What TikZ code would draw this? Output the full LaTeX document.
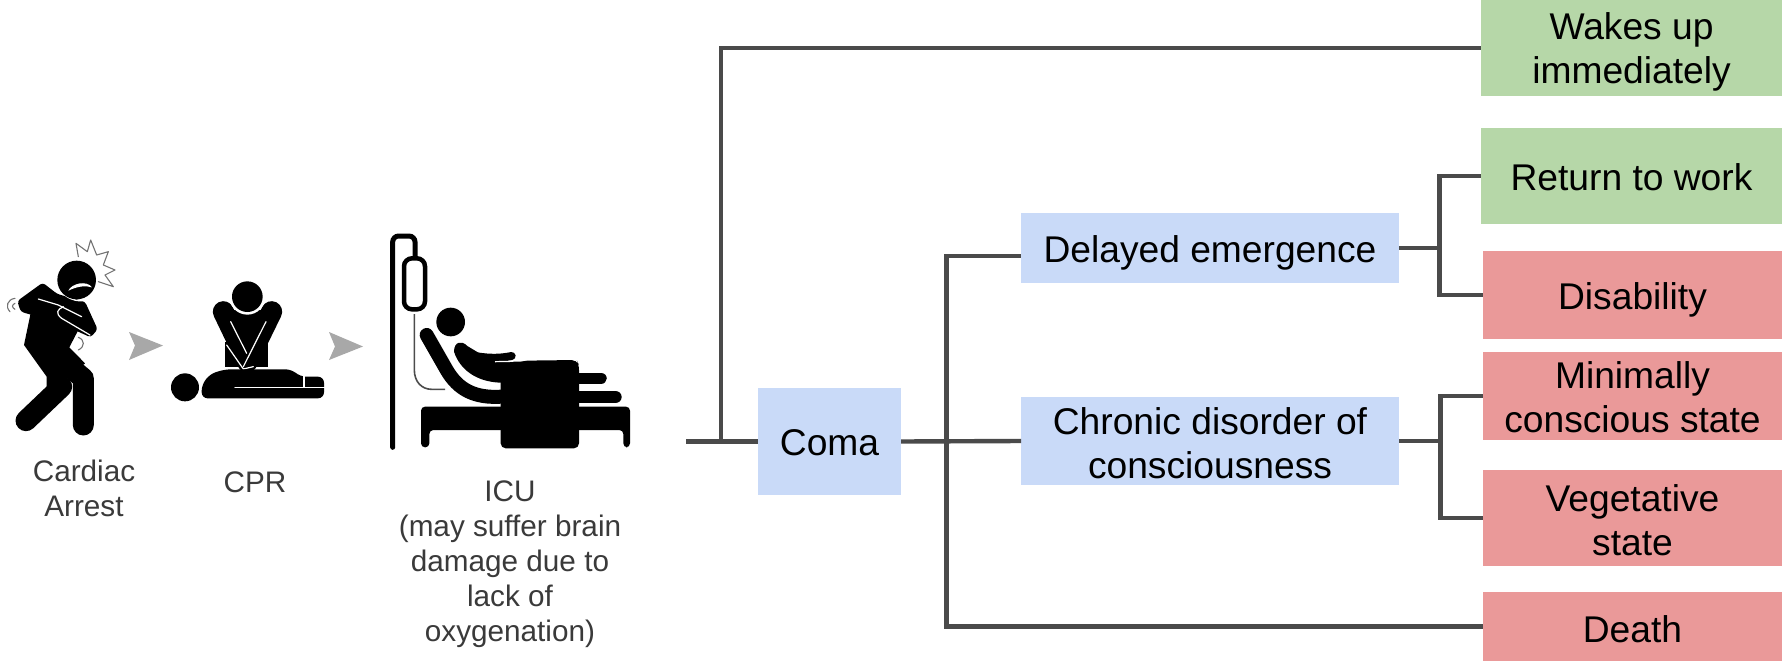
\documentclass[tikz,border=0pt]{standalone}
\usepackage{fontspec}
\setmainfont{Liberation Sans}
\definecolor{boxgreen}{HTML}{B6D7A8}
\definecolor{boxred}{HTML}{EA9999}
\definecolor{boxblue}{HTML}{C9DAF8}
\definecolor{linkgrey}{HTML}{4A4A4A}
\definecolor{tipgrey}{HTML}{A8A8A8}
\definecolor{labelgrey}{HTML}{3A3A3A}
\newcommand{\dropto}[1]{\rule{0pt}{#1pt}}
\tikzset{
  box/.style={inner sep=0pt,outer sep=0pt,align=center,text=black,font=\fontsize{37.2}{44}\selectfont},
  good/.style={box,fill=boxgreen,minimum width=301pt},
  bad/.style={box,fill=boxred,minimum width=299pt},
  state/.style={box,fill=boxblue},
  link/.style={draw=linkgrey,line width=4.4pt,line join=miter},
  caption/.style={inner sep=0pt,align=center,text=labelgrey,font=\fontsize{29.7}{35}\selectfont},
  tip/.style={fill=tipgrey,draw=none},
  zoomed/.style={x=0.33333pt,y=-0.33333pt},
  limb/.style={draw=black,line cap=round,line join=round},
  slit/.style={draw=white,line width=1.2pt,line cap=round,line join=round},
  scribble/.style={draw=black!55,line width=1.1pt,line join=round,line cap=round}
}
\begin{document}
\begin{tikzpicture}[x=1pt,y=-1pt]
\useasboundingbox (0,0) rectangle (1782,661);
\fill[white] (0,0) rectangle (1782,661);

% ---------- cardiac arrest figure
\begin{scope}[shift={(0pt,-230pt)},zoomed]
  \draw[limb,line width=21pt] (185,470) -- (78,572);
  \draw[limb,line width=21pt] (250,585) -- (250,445) -- (190,395);
  \fill[black] (95,235) -- (190,210) -- (235,300) -- (208,352) -- (255,400) -- (212,440) -- (195,435) -- (205,490) -- (140,470) -- (140,440) -- (72,345) -- cycle;
  \fill[black,rounded corners=3pt] (52,213) -- (128,158) -- (172,192) -- (255,215) -- (293,298) -- (272,322) -- (180,280) -- (62,245) -- cycle;
  \draw[slit] (115,207) -- (175,225) -- (245,260);
  \draw[slit] (190,230) .. controls (172,238) and (165,250) .. (185,265) -- (270,315);
  \draw[white,line width=1.4pt] (170,165) .. controls (185,195) and (215,215) .. (250,212);
  \fill[black] (230,150) circle (58);
  \fill[white] (205,182) .. controls (215,160) and (260,150) .. (276,172) .. controls (255,165) and (230,170) .. cycle;
  \draw[scribble] (235,80) -- (228,40) -- (262,65) -- (272,30) -- (290,75) -- (325,65) -- (310,105) -- (345,120) -- (315,135) -- (340,170) -- (295,155);
  \draw[scribble] (45,205) .. controls (22,208) and (15,230) .. (30,245);
  \draw[scribble] (45,220) .. controls (35,225) and (35,232) .. (45,238);
  \draw[scribble] (235,322) .. controls (255,330) and (255,350) .. (235,360);
\end{scope}

% ---------- CPR figure
\begin{scope}[shift={(160pt,-270pt)},zoomed]
  \fill[black] (195,215) rectangle (325,292);
  \fill[black] (190,120) -- (335,120) -- (262,285) -- cycle;
  \draw[limb,line width=21pt] (190,125) -- (262,275) -- (335,125);
  \draw[slit] (212,155) -- (260,250);
  \draw[slit] (318,155) -- (250,290);
  \draw[slit] (200,225) -- (250,297) -- (280,290);
  \fill[white] (262,80) circle (54);
  \fill[black] (262,80) circle (46);
  \fill[black] (75,352) circle (42);
  \fill[black,rounded corners=6pt] (125,385) -- (125,345) -- (150,312) -- (195,298) -- (395,298) -- (420,320) -- (492,320) -- (492,385) -- cycle;
  \draw[slit] (225,352) -- (495,352);
  \draw[slit] (432,318) -- (432,350);
\end{scope}

% ---------- ICU figure
\begin{scope}[shift={(380pt,-230pt)},zoomed]
  \draw[black,line width=5pt,rounded corners=6pt,line cap=round] (38,652) -- (38,18) -- (105,18) -- (105,90);
  \draw[black,line width=4.5pt,fill=white,rounded corners=8pt] (72,85) rectangle (135,238);
  \draw[black!70,line width=1.6pt] (103,252) -- (103,420) .. controls (103,455) and (125,478) .. (155,478) -- (195,478);
  \fill[black] (212,276) circle (43);
  \draw[limb,line width=14pt] (140,315) -- (200,420) .. controls (235,480) and (285,505) .. (365,500);
  \fill[black] (222,365) .. controls (222,335) and (245,330) .. (262,348) -- (340,395) -- (430,395) -- (430,458) -- (360,458) .. controls (290,455) and (240,420) .. (222,365);
  \draw[limb,line width=8pt] (290,379) .. controls (330,385) and (360,385) .. (395,378);
  \draw[white,line width=1.2pt] (345,395) -- (400,394);
  \fill[black,rounded corners=5pt] (362,655) -- (362,440) -- (400,405) -- (430,392) -- (590,390) -- (597,405) -- (597,655) -- cycle;
  \draw[limb,line width=11.5pt] (590,445) -- (663,445);
  \draw[limb,line width=12.7pt] (590,501) -- (706,501);
  \fill[black,rounded corners=4pt] (123,652) -- (123,530) -- (750,530) -- (750,652) -- (730,652) -- (730,600) -- (148,600) -- (148,652) -- cycle;
\end{scope}

% ---------- grey arrowheads
\fill[tip] (129,332) -- (163,345.5) -- (129,360) -- (135,345.5) -- cycle;
\fill[tip] (329,332) -- (363,346.5) -- (329,360) -- (335,346.5) -- cycle;

% ---------- captions
\node[caption] (cardiaccap) at (84,488) {Cardiac\\Arrest};
\node[caption] (cprcap) at (255,482) {CPR};
\node[caption] (icucap) at (510,564.5) {ICU\\(may suffer brain\\damage due to\\lack of\\oxygenation)};

% ---------- boxes
\node[good,minimum height=96pt] (wakes) at (1631.5,48) {\dropto{35}Wakes up\\immediately};
\node[good,minimum height=96pt] (work) at (1631.5,176) {\dropto{29}Return to work};
\node[bad,minimum height=88pt] (disab) at (1632.5,295) {\dropto{36}Disability};
\node[bad,minimum height=88pt] (minim) at (1632.5,396) {\dropto{30}Minimally\\conscious state};
\node[bad,minimum height=96pt] (veget) at (1632.5,518) {\dropto{32}Vegetative\\state};
\node[bad,minimum height=69pt] (death) at (1632.5,626.5) {\dropto{32}Death};
\node[state,minimum width=378pt,minimum height=70pt] (delayed) at (1210,248) {\dropto{36}Delayed emergence};
\node[state,minimum width=378pt,minimum height=88pt] (chronic) at (1210,441) {\dropto{31}Chronic disorder of\\consciousness};
\node[state,minimum width=143pt,minimum height=107pt] (coma) at (829.5,441.5) {\dropto{29}Coma};

% ---------- connectors
\coordinate (start) at (686,441.5);
\coordinate (forkA) at (721,441.5);
\coordinate (forkB) at (946.5,441.5);
\coordinate (forkC) at (1439.5,248);
\coordinate (forkD) at (1440.5,441);
\draw[link] (start) -- (coma.west);
\draw[link] (forkA) |- (wakes.west);
\draw[link] (coma.east) -- (chronic.west);
\draw[link] (forkB) |- ([yshift=-8pt]delayed.west);
\draw[link] (forkB) |- (death.west);
\draw[link] (delayed.east) -- (forkC);
\draw[link] (forkC) |- (work.west);
\draw[link] (forkC) |- (disab.west);
\draw[link] (chronic.east) -- (forkD);
\draw[link] (forkD) |- (minim.west);
\draw[link] (forkD) |- (veget.west);
\end{tikzpicture}
\end{document}
